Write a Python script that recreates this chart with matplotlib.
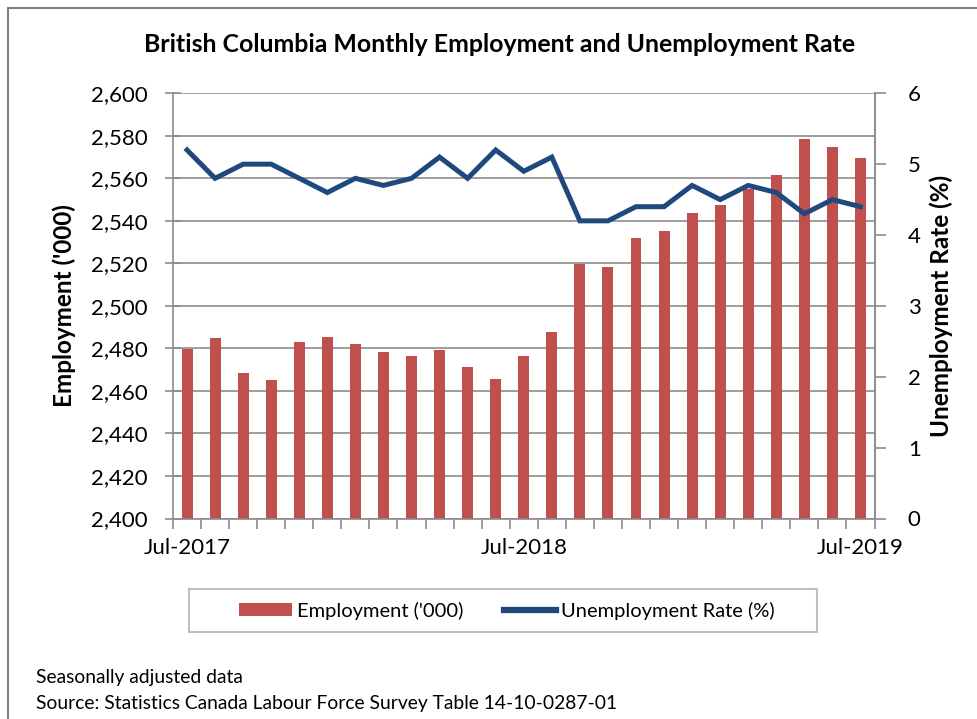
import matplotlib
matplotlib.use("Agg")
import matplotlib.pyplot as plt
from matplotlib.patches import Rectangle, Patch
from matplotlib.lines import Line2D
from matplotlib.ticker import FuncFormatter, FixedLocator

plt.rcParams['font.family'] = ['Lato', 'DejaVu Sans']

months = ["Jul-2017", "Aug-2017", "Sep-2017", "Oct-2017", "Nov-2017", "Dec-2017",
          "Jan-2018", "Feb-2018", "Mar-2018", "Apr-2018", "May-2018", "Jun-2018",
          "Jul-2018", "Aug-2018", "Sep-2018", "Oct-2018", "Nov-2018", "Dec-2018",
          "Jan-2019", "Feb-2019", "Mar-2019", "Apr-2019", "May-2019", "Jun-2019",
          "Jul-2019"]
employment = [2479.7, 2485.0, 2468.5, 2465.2, 2482.8, 2485.3, 2482.0, 2478.4,
              2476.2, 2479.4, 2471.2, 2465.6, 2476.2, 2487.7, 2519.7, 2518.3,
              2532.0, 2535.3, 2543.9, 2547.5, 2555.0, 2561.4, 2578.4, 2574.7,
              2569.8]
unemployment = [5.2, 4.8, 5.0, 5.0, 4.8, 4.6, 4.8, 4.7, 4.8, 5.1, 4.8, 5.2, 4.9,
                5.1, 4.2, 4.2, 4.4, 4.4, 4.7, 4.5, 4.7, 4.6, 4.3, 4.5, 4.4]
labeled_months = ["Jul-2017", "Jul-2018", "Jul-2019"]

title = "British Columbia Monthly Employment and Unemployment Rate"
left_label = "Employment ('000)"
right_label = "Unemployment Rate (%)"
notes = ["Seasonally adjusted data",
         "Source: Statistics Canada Labour Force Survey Table 14-10-0287-01"]

BAR = "#C0504D"
LINE = "#1F497D"
GRID = "#8C8C8C"

W, H = 977, 719
fig = plt.figure(figsize=(W / 100, H / 100), dpi=100)

def fx(px):
    return px / W

def fy(py):
    return 1 - py / H

AX_L, AX_R, AX_T, AX_B = 173, 874.5, 93.3, 518.5
ax = fig.add_axes([fx(AX_L), fy(AX_B), fx(AX_R) - fx(AX_L), fy(AX_T) - fy(AX_B)])
x = list(range(len(months)))

ax.bar(x, employment, width=0.39, color=BAR, zorder=2)
ax.set_xlim(-0.5, len(months) - 0.5)
ax.set_ylim(2400, 2600)
ax.set_yticks(range(2400, 2601, 20))
ax.yaxis.set_major_formatter(FuncFormatter(lambda v, p: f"{int(v):,}"))
ax.grid(axis='y', color=GRID, lw=1.2, zorder=0)
ax.set_axisbelow(True)

ax.spines['top'].set_visible(False)
for s in ['left', 'bottom', 'right']:
    ax.spines[s].set_color(GRID)
    ax.spines[s].set_linewidth(1.2)

ax.tick_params(axis='y', which='major', direction='inout', length=12, width=1.2,
               color=GRID, labelsize=16, pad=12.5, labelcolor='black')
ax.set_xticks([months.index(m) for m in labeled_months])
ax.set_xticklabels(labeled_months)
ax.xaxis.set_minor_locator(FixedLocator([i - 0.5 for i in range(len(months) + 1)]))
ax.tick_params(axis='x', which='major', length=0, labelsize=16, pad=14)
ax.tick_params(axis='x', which='minor', direction='out', length=7, width=1.2, color=GRID)

ax2 = ax.twinx()
ax2.plot(x, unemployment, color=LINE, lw=3.6, solid_joinstyle='miter', zorder=3)
ax2.set_ylim(0, 6)
ax2.set_yticks(range(0, 7))
for s in ['top', 'left', 'bottom']:
    ax2.spines[s].set_visible(False)
ax2.spines['right'].set_color(GRID)
ax2.spines['right'].set_linewidth(1.2)
ax2.tick_params(axis='y', direction='out', length=8, width=1.2, color=GRID,
                labelsize=16, pad=16)

axw = AX_R - AX_L
ax.set_ylabel(left_label, fontsize=17.5, fontweight='bold')
ax.yaxis.set_label_coords((76 - AX_L) / axw, 0.5)
ax2.set_ylabel(right_label, fontsize=17.5, fontweight='bold')
ax2.yaxis.set_label_coords((929 - AX_L) / axw, 0.5)

fig.text(fx(500), fy(45), title, ha='center', va='center', fontsize=17.9,
         fontweight='bold')

# legend frame and legend
fig.add_artist(Rectangle((fx(189), fy(632)), fx(817) - fx(189), fy(589) - fy(632),
                         transform=fig.transFigure, fill=False, edgecolor='#BFBFBF',
                         lw=1.5))
handles = [Patch(facecolor=BAR, edgecolor='none', label="Employment ('000)"),
           Line2D([], [], color=LINE, lw=4.5, label="Unemployment Rate (%)")]
fig.legend(handles=handles, loc='center', bbox_to_anchor=(fx(507), fy(610.5)),
           ncol=2, frameon=False, fontsize=14.5, handlelength=2.6, handleheight=0.6,
           handletextpad=0.25, columnspacing=2.0, borderpad=0, borderaxespad=0)

fig.text(fx(36), fy(677), notes[0], ha='left', va='center', fontsize=13.9)
fig.text(fx(36), fy(703), notes[1], ha='left', va='center', fontsize=13.9)

# outer chart border (extends beyond the image on the right and bottom)
fig.add_artist(Rectangle((fx(8), fy(730)), fx(1000) - fx(8), fy(8) - fy(730),
                         transform=fig.transFigure, fill=False, edgecolor='#808080',
                         lw=1.5, clip_on=False))

fig.savefig("out.png", dpi=100)
